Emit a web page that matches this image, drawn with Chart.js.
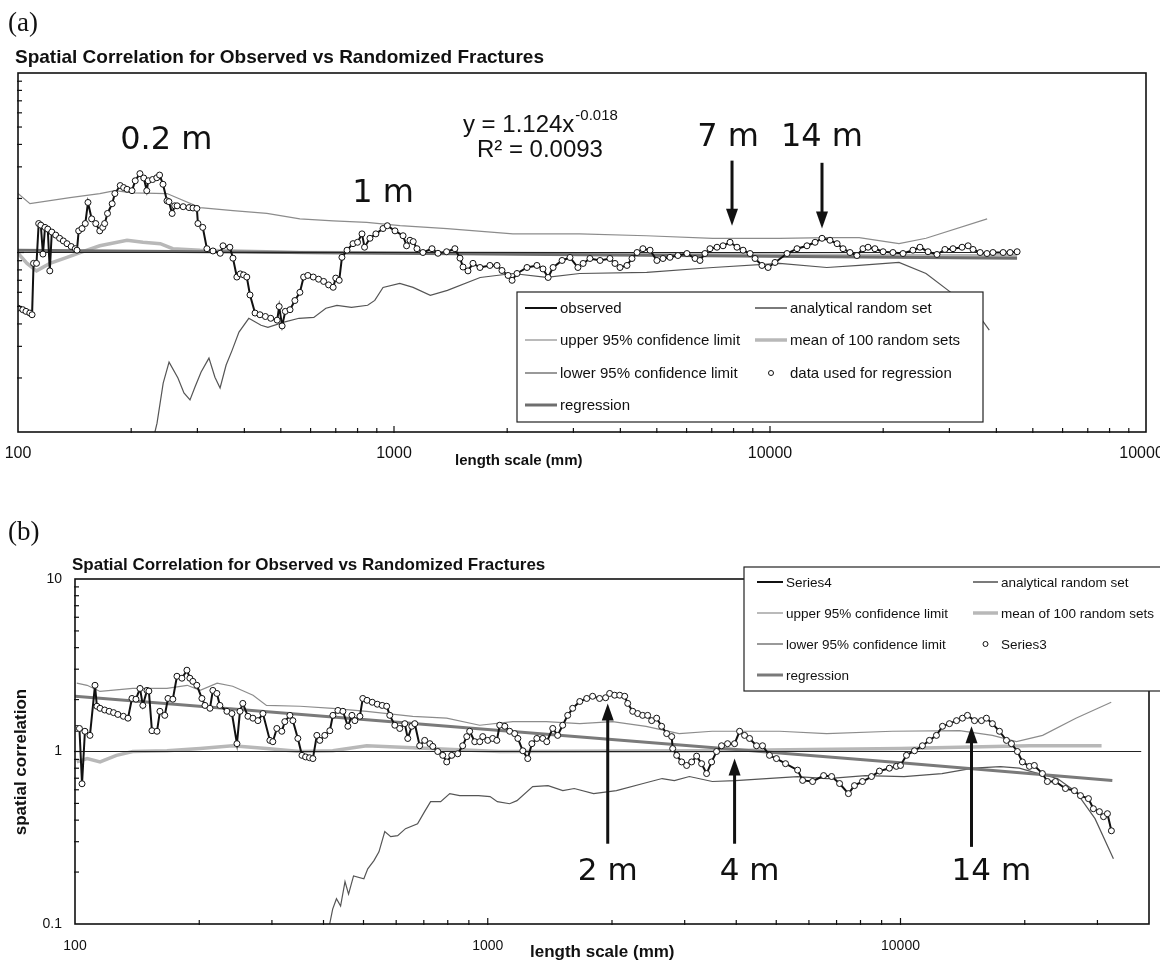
<!DOCTYPE html>
<html>
<head>
<meta charset="utf-8">
<script src="https://cdn.jsdelivr.net/npm/chart.js@4.4.1/dist/chart.umd.min.js"></script>
<style>
  body { margin: 0; background: #fff; width: 1160px; height: 961px; overflow: hidden; position: relative; }
  canvas { position: absolute; left: 0; }
  #chartA { top: 0; }
  #chartB { top: 470px; }
  .t { position: absolute; white-space: nowrap; color: #111; line-height: 1; font-family: "Liberation Sans", Arial, sans-serif; }
  .b { font-weight: bold; }
  .serif { font-family: "Liberation Serif", "Times New Roman", serif; }
</style>
</head>
<body>
<canvas id="chartA" width="1160" height="475"></canvas>
<canvas id="chartB" width="1160" height="491"></canvas>

<div class="t serif" style="left:8px;top:9px;font-size:27px">(a)</div>
<div class="t b" style="left:15px;top:47px;font-size:19px">Spatial Correlation for Observed vs Randomized Fractures</div>
<div class="t b" style="left:455px;top:452px;font-size:15px">length scale (mm)</div>
<div class="t serif" style="left:8px;top:518px;font-size:27px">(b)</div>
<div class="t b" style="left:72px;top:556px;font-size:17px">Spatial Correlation for Observed vs Randomized Fractures</div>
<div class="t b" style="left:530px;top:943px;font-size:17px">length scale (mm)</div>
<div class="t b" style="left:20px;top:762px;font-size:17px;transform:translate(-50%,-50%) rotate(-90deg)">spatial correlation</div>

<script>
"use strict";

/* ---- panel (a) data: [length scale (mm), spatial correlation] ---- */
var observedA = [
    [100, 0.49], [103, 0.48], [105, 0.47], [107.5, 0.46], [109, 0.45], [110, 0.87], [112, 0.87], [113.5, 1.45],
    [115, 1.42], [116.5, 0.98], [118, 1.38], [120, 1.35], [121.5, 0.79], [123, 1.30], [126, 1.25], [129, 1.20],
    [132, 1.16], [135, 1.12], [138.5, 1.08], [142, 1.05], [143.5, 1.03], [145, 1.32], [148, 1.36], [151, 1.45],
    [153.5, 1.90], [157, 1.54], [161, 1.45], [165, 1.32], [168, 1.38], [170, 1.45], [173, 1.65], [178, 1.87],
    [181, 2.13], [187, 2.36], [191, 2.30], [195, 2.25], [201, 2.21], [205, 2.51], [211, 2.75], [216, 2.60],
    [220, 2.21], [222, 2.51], [228, 2.55], [234, 2.61], [238, 2.70], [243, 2.40], [249, 1.94], [252, 1.92],
    [257, 1.65], [261, 1.82], [265, 1.82], [275, 1.80], [285, 1.78], [292, 1.77], [299, 1.76], [301, 1.45],
    [310, 1.38], [318, 1.05], [330, 1.02], [345, 0.99], [351, 1.09], [366, 1.07], [373, 0.93], [382, 0.73],
    [390, 0.76], [398, 0.75], [406, 0.73], [414, 0.58], [427, 0.46], [440, 0.45], [455, 0.44], [470, 0.43],
    [489, 0.42], [495, 0.50], [504, 0.39], [514, 0.47], [529, 0.48], [545, 0.54], [562, 0.60], [575, 0.73],
    [590, 0.745], [610, 0.73], [630, 0.71], [650, 0.69], [670, 0.66], [689, 0.64], [700, 0.72], [715, 0.70],
    [727, 0.94], [750, 1.03], [778, 1.12], [800, 1.14], [822, 1.27], [835, 1.07], [863, 1.20], [895, 1.27],
    [935, 1.36], [960, 1.41], [1006, 1.32], [1057, 1.24], [1080, 1.09], [1103, 1.17], [1125, 1.15], [1151, 1.05],
    [1194, 1.00], [1262, 1.05], [1309, 0.99], [1380, 1.01], [1452, 1.05], [1498, 0.93], [1526, 0.83], [1573, 0.79],
    [1622, 0.87], [1693, 0.825], [1799, 0.847], [1879, 0.847], [1937, 0.794], [2011, 0.745], [2061, 0.70], [2124, 0.764],
    [2258, 0.825], [2399, 0.847], [2490, 0.81], [2570, 0.726], [2649, 0.825], [2799, 0.903], [2938, 0.938], [3084, 0.825],
    [3184, 0.869], [3320, 0.926], [3532, 0.903], [3752, 0.926], [3870, 0.869], [3991, 0.825], [4165, 0.847], [4295, 0.926],
    [4430, 1.0], [4592, 1.05], [4797, 1.03], [5003, 0.903], [5192, 0.926], [5420, 0.94], [5690, 0.962], [6012, 0.987],
    [6320, 0.926], [6513, 0.903], [6714, 0.987], [6925, 1.05], [7228, 1.07], [7500, 1.09], [7830, 1.14], [8170, 1.07],
    [8480, 1.03], [8850, 0.987], [9125, 0.926], [9520, 0.847], [9883, 0.825], [10310, 0.88], [11100, 0.987], [11800, 1.05],
    [12540, 1.09], [13180, 1.14], [13750, 1.20], [14440, 1.17], [15080, 1.12], [15640, 1.05], [16320, 1.0], [17030, 0.962],
    [17670, 1.05], [18230, 1.07], [19010, 1.05], [19990, 1.01], [21230, 1.0], [22580, 0.987], [23990, 1.03], [25050, 1.07],
    [26320, 1.01], [27800, 0.975], [29190, 1.04], [30670, 1.05], [32420, 1.07], [33640, 1.09], [34670, 1.04], [36210, 1.0],
    [37760, 0.987], [39170, 1.0], [41690, 1.0], [43500, 1.0], [45420, 1.01]
];
var upperA = [
    [100, 2.13], [107.6, 1.87], [137.5, 2.02], [165, 2.13], [181, 2.21], [202, 2.15], [249, 2.13], [305, 1.78],
    [373, 1.71], [459, 1.65], [562, 1.54], [689, 1.50], [846, 1.47], [1038, 1.41], [1384, 1.36], [2071, 1.27],
    [3117, 1.27], [4690, 1.24], [7050, 1.20], [10600, 1.20], [14160, 1.21], [17260, 1.21], [22030, 1.12], [26000, 1.20],
    [37800, 1.54]
];
var lowerA = [
    [231.3, 0.1], [234.3, 0.112], [243.3, 0.187], [252.2, 0.245], [266.3, 0.20], [276.3, 0.165], [286.7, 0.151], [295.6, 0.178],
    [306.9, 0.216], [322, 0.258], [334, 0.202], [344.7, 0.176], [357.7, 0.236], [371, 0.285], [387, 0.36], [411, 0.43],
    [443, 0.393], [462, 0.383], [510, 0.409], [559, 0.43], [612, 0.435], [659, 0.489], [705, 0.508], [771, 0.495],
    [851, 0.508], [889, 0.541], [935, 0.639], [1036, 0.673], [1124, 0.639], [1249, 0.577], [1387, 0.615], [1695, 0.726],
    [2069, 0.764], [2546, 0.726], [3118, 0.764], [4701, 0.774], [7057, 0.825], [10600, 0.869], [14160, 0.825], [17260, 0.847],
    [22030, 0.88], [26000, 0.764], [30500, 0.592], [36700, 0.419], [38300, 0.369]
];
var meanA = [
    [100, 0.99], [105.7, 0.87], [112, 0.79], [121.6, 0.87], [135, 0.94], [152.6, 1.03], [165, 1.09], [195, 1.17],
    [215, 1.14], [239, 1.12], [258, 1.05], [305, 1.03], [562, 1.0], [1912, 0.99], [6500, 0.975], [22000, 0.96],
    [45400, 0.96]
];
var analyticA = [[100, 1], [45400, 1]];
var regressionA = [[100, 1.03], [45400, 0.93]];

/* ---- panel (b) data ---- */
var observedB = [
    [101, 1.36], [102.5, 1.36], [104, 0.65], [105.7, 1.31], [108.7, 1.24], [111.8, 2.42], [113, 1.83], [115, 1.78],
    [118, 1.74], [121, 1.71], [124, 1.68], [127, 1.64], [131, 1.60], [134.4, 1.56], [137.4, 2.03], [140.5, 2.01],
    [143.7, 2.32], [146, 1.85], [149.4, 2.26], [151, 2.24], [153.6, 1.32], [158, 1.31], [160.6, 1.71], [165, 1.62],
    [168, 2.03], [172.6, 2.01], [176.6, 2.73], [181.6, 2.66], [186.7, 2.96], [189.8, 2.66], [193, 2.55], [197.3, 2.42],
    [203, 2.03], [206.5, 1.85], [212.3, 1.78], [215.8, 2.26], [220.7, 2.17], [224.4, 1.85], [233.4, 1.71], [240, 1.66],
    [246.8, 1.11], [251, 1.71], [255, 1.90], [262.4, 1.60], [269.8, 1.56], [277.4, 1.51], [285.3, 1.66], [296.6, 1.16],
    [301.5, 1.14], [308.3, 1.36], [317, 1.31], [322.3, 1.49], [331.6, 1.62], [337.2, 1.51], [346.7, 1.19], [354.7, 0.95],
    [362, 0.93], [370, 0.92], [377, 0.91], [385.4, 1.24], [391.8, 1.16], [402.9, 1.24], [414.4, 1.32], [421.5, 1.62],
    [433.5, 1.73], [445.7, 1.71], [458.3, 1.40], [468.8, 1.62], [476.5, 1.51], [490, 1.60], [498, 2.03], [510, 1.98],
    [525, 1.93], [540, 1.88], [555, 1.85], [569, 1.83], [579, 1.62], [595.5, 1.42], [612, 1.36], [629.5, 1.45],
    [640, 1.19], [654.6, 1.40], [665.6, 1.45], [684, 1.08], [703.5, 1.16], [724, 1.11], [736, 1.07], [756.5, 1.0],
    [778, 0.95], [795.4, 0.87], [818, 0.95], [845.7, 0.97], [869.5, 1.08], [889.5, 1.22], [904, 1.31], [930, 1.14],
    [956.5, 1.14], [972.5, 1.22], [1000, 1.16], [1028, 1.19], [1052, 1.16], [1069, 1.42], [1100, 1.40], [1130, 1.31],
    [1162, 1.27], [1183, 1.19], [1216, 1.01], [1250, 0.91], [1279, 1.11], [1315, 1.19], [1359, 1.19], [1390, 1.14],
    [1437, 1.36], [1477, 1.24], [1519, 1.42], [1562, 1.62], [1606, 1.78], [1671, 1.95], [1737, 2.03], [1795, 2.09],
    [1866, 2.03], [1930, 2.05], [1974, 2.17], [2030, 2.12], [2088, 2.12], [2147, 2.09], [2183, 1.90], [2245, 1.71],
    [2308, 1.66], [2373, 1.62], [2440, 1.62], [2495, 1.51], [2566, 1.56], [2638, 1.40], [2713, 1.27], [2790, 1.22],
    [2806, 1.04], [2869, 0.95], [2950, 0.87], [3033, 0.83], [3119, 0.87], [3207, 0.94], [3297, 0.85], [3390, 0.745],
    [3486, 0.87], [3584, 1.0], [3685, 1.08], [3811, 1.11], [3963, 1.11], [4075, 1.31], [4190, 1.24], [4308, 1.19],
    [4479, 1.08], [4631, 1.08], [4815, 0.95], [5006, 0.91], [5266, 0.85], [5633, 0.78], [5793, 0.68], [6124, 0.67],
    [6512, 0.725], [6809, 0.716], [7119, 0.652], [7479, 0.57], [7735, 0.634], [8088, 0.67], [8506, 0.716], [8892, 0.77],
    [9398, 0.80], [9772, 0.82], [10000, 0.83], [10340, 0.95], [10810, 1.01], [11300, 1.08], [11750, 1.16], [12220, 1.24],
    [12640, 1.40], [13140, 1.45], [13670, 1.51], [14130, 1.56], [14530, 1.62], [15110, 1.51], [15710, 1.51], [16150, 1.56],
    [16700, 1.45], [17370, 1.31], [18060, 1.16], [18570, 1.11], [19200, 1.0], [19740, 0.87], [20530, 0.82], [21100, 0.83],
    [22070, 0.745], [22690, 0.67], [23730, 0.67], [25100, 0.61], [26390, 0.593], [27290, 0.555], [28530, 0.533], [29330, 0.466],
    [30330, 0.448], [31040, 0.419], [31720, 0.436], [32430, 0.347]
];
var upperB = [
    [101, 2.49], [107, 2.42], [115, 2.23], [138, 2.32], [167, 2.32], [187, 2.42], [201, 2.26], [221, 2.49],
    [241, 2.39], [270, 2.12], [291, 1.85], [351, 1.83], [421, 1.78], [509, 1.71], [658, 1.60], [795, 1.56],
    [956, 1.42], [1150, 1.49], [1386, 1.49], [1671, 1.45], [2006, 1.49], [2418, 1.40], [2909, 1.27], [3496, 1.31],
    [4222, 1.31], [5090, 1.31], [6623, 1.27], [9560, 1.31], [13900, 1.32], [16700, 1.24], [19100, 1.14], [22100, 1.24],
    [26600, 1.56], [32400, 1.93]
];
var lowerB = [
    [414, 0.1], [421, 0.122], [430, 0.14], [440, 0.127], [451, 0.176], [460, 0.149], [473, 0.19], [501, 0.183],
    [512, 0.209], [530, 0.233], [545, 0.262], [563, 0.343], [582, 0.321], [605, 0.325], [632, 0.357], [676, 0.381],
    [703, 0.448], [727, 0.512], [769, 0.512], [809, 0.57], [855, 0.555], [950, 0.555], [1013, 0.548], [1055, 0.512],
    [1130, 0.498], [1177, 0.519], [1285, 0.626], [1400, 0.634], [1520, 0.593], [1620, 0.61], [1805, 0.57], [2050, 0.593],
    [2380, 0.652], [2645, 0.697], [2832, 0.678], [3080, 0.716], [3500, 0.67], [3980, 0.678], [4730, 0.697], [5630, 0.716],
    [6650, 0.697], [8220, 0.725], [10200, 0.716], [12600, 0.745], [15000, 0.80], [17470, 0.818], [19400, 0.80], [21600, 0.745],
    [24000, 0.697], [26600, 0.585], [29600, 0.408], [32800, 0.239]
];
var meanB = [
    [101, 0.87], [107, 0.91], [115, 0.87], [126, 0.95], [138, 1.0], [167, 1.01], [201, 1.04], [241, 1.08],
    [291, 1.04], [351, 1.0], [421, 1.01], [509, 1.08], [1070, 1.0], [3250, 1.01], [10000, 1.04], [20500, 1.08],
    [30700, 1.08]
];
var analyticB = [[100, 1], [38300, 1]];
var regressionB = [[100, 2.09], [1000, 1.34], [10000, 0.86], [32600, 0.68]];

/* ---- axes ---- */
var xTicksA = [100, 1000, 10000, 100000];
var xTicksB = [100, 1000, 10000];
var yTicks = [0.1, 1, 10];

var SANS = '"Liberation Sans", Arial, sans-serif';
var VERD = '"DejaVu Sans", Verdana, sans-serif';

function pts(a) {
    return a.map(function (p) { return { x: p[0], y: p[1] }; });
}
function lineSet(label, data, color, width) {
    return { label: label, data: pts(data), showLine: true, borderColor: color, borderWidth: width,
        pointRadius: 0, pointHoverRadius: 0, fill: false, tension: 0 };
}
function dotSet(label, data) {
    return { label: label, data: pts(data), showLine: false, pointRadius: 3, pointHoverRadius: 3,
        pointBackgroundColor: '#fff', pointBorderColor: '#111', pointBorderWidth: 1, borderColor: '#111' };
}
function logX(min, max, ticks, size, pad, h) {
    return {
        type: 'logarithmic', min: min, max: max, position: 'bottom',
        grid: { display: false, drawTicks: false }, border: { display: false },
        ticks: { color: '#111', font: { family: SANS, size: size }, padding: pad, autoSkip: false, maxRotation: 0,
            callback: function (v) { return String(v); } },
        afterBuildTicks: function (s) { s.ticks = ticks.map(function (v) { return { value: v }; }); },
        afterFit: function (s) { s.height = h; s.paddingLeft = 0; s.paddingRight = 0; }
    };
}

/* frame, minor ticks, notes, arrows and the boxed legend */
function decor(cfg) {
    return {
        id: 'decor',
        afterDatasetsDraw: function (chart) {
            var ctx = chart.ctx, a = chart.chartArea, xs = chart.scales.x, ys = chart.scales.y;
            ctx.save();
            ctx.strokeStyle = '#111';
            ctx.fillStyle = '#111';
            ctx.lineWidth = 1.2;
            for (var d = xs.min; d < xs.max; d *= 10) {
                for (var k = 1; k < 10; k++) {
                    var v = d * k;
                    if (v <= xs.min || v >= xs.max) continue;
                    var px = xs.getPixelForValue(v);
                    ctx.beginPath(); ctx.moveTo(px, a.bottom + 1); ctx.lineTo(px, a.bottom - (k === 1 ? 6 : 4)); ctx.stroke();
                }
            }
            for (var e = ys.min; e < ys.max; e *= 10) {
                for (var j = 1; j < 10; j++) {
                    var w = e * j;
                    if (w <= ys.min || w >= ys.max) continue;
                    var py = ys.getPixelForValue(w);
                    ctx.beginPath(); ctx.moveTo(a.left - 1, py); ctx.lineTo(a.left + (j === 1 ? 6 : 4), py); ctx.stroke();
                }
            }
            ctx.lineWidth = 1.6;
            ctx.strokeRect(a.left, a.top, a.right - a.left, a.bottom - a.top);

            cfg.arrows.forEach(function (ar) {
                var x = xs.getPixelForValue(ar.x), y0 = ys.getPixelForValue(ar.from), y1 = ys.getPixelForValue(ar.to);
                var dir = y1 > y0 ? 1 : -1;
                ctx.lineWidth = 3;
                ctx.beginPath(); ctx.moveTo(x, y0); ctx.lineTo(x, y1 - dir * 12); ctx.stroke();
                ctx.beginPath(); ctx.moveTo(x, y1); ctx.lineTo(x - 6, y1 - dir * 17); ctx.lineTo(x + 6, y1 - dir * 17);
                ctx.closePath(); ctx.fill();
            });

            ctx.textBaseline = 'middle';
            cfg.notes.forEach(function (n) {
                var cx = xs.getPixelForValue(n.x), cy = ys.getPixelForValue(n.y);
                ctx.font = n.font;
                var w1 = ctx.measureText(n.text).width, w2 = 0;
                if (n.sup) { ctx.font = n.supFont; w2 = ctx.measureText(n.sup).width; }
                var sx = cx - (w1 + w2) / 2;
                ctx.textAlign = 'left';
                ctx.font = n.font;
                ctx.fillText(n.text, sx, cy);
                if (n.sup) { ctx.font = n.supFont; ctx.fillText(n.sup, sx + w1 + 1, cy - 9); }
            });

            var lg = cfg.legend, b = lg.box;
            ctx.fillStyle = '#fff';
            ctx.fillRect(b[0], b[1], b[2] - b[0], b[3] - b[1]);
            ctx.strokeStyle = '#222';
            ctx.lineWidth = 1.2;
            ctx.strokeRect(b[0], b[1], b[2] - b[0], b[3] - b[1]);
            ctx.font = lg.font;
            ctx.textAlign = 'left';
            lg.items.forEach(function (it) {
                var ds = chart.data.datasets.find(function (s) { return s.label === it[0]; });
                var col = lg.cols[it[1]], y = lg.rows[it[2]];
                if (ds.showLine) {
                    ctx.strokeStyle = ds.borderColor;
                    ctx.lineWidth = ds.borderWidth;
                    ctx.beginPath(); ctx.moveTo(col[0], y); ctx.lineTo(col[1], y); ctx.stroke();
                } else {
                    ctx.fillStyle = '#fff'; ctx.strokeStyle = '#111'; ctx.lineWidth = 1;
                    ctx.beginPath(); ctx.arc((col[0] + col[1]) / 2, y, 2.5, 0, Math.PI * 2); ctx.fill(); ctx.stroke();
                }
                ctx.fillStyle = '#111';
                ctx.fillText(it[0], col[2], y + 1);
            });
            ctx.restore();
        }
    };
}

/* ---- chart (a) ---- */
var ctxA = document.getElementById('chartA').getContext('2d');
new Chart(ctxA, {
    type: 'scatter',
    data: {
        datasets: [
            dotSet('data used for regression', observedA),
            lineSet('observed', observedA, '#111', 2),
            lineSet('analytical random set', analyticA, '#222', 1.2),
            lineSet('regression', regressionA, '#6e6e6e', 3),
            lineSet('lower 95% confidence limit', lowerA, '#555', 1.2),
            lineSet('upper 95% confidence limit', upperA, '#8c8c8c', 1.2),
            lineSet('mean of 100 random sets', meanA, '#b8b8b8', 3.5)
        ]
    },
    options: {
        responsive: false,
        animation: false,
        events: [],
        layout: { padding: { left: 18, right: 14, top: 73, bottom: 0 } },
        plugins: { legend: { display: false }, tooltip: { enabled: false } },
        scales: {
            x: logX(100, 100000, xTicksA, 16, 12, 43),
            y: { type: 'logarithmic', min: 0.1, max: 10, display: false }
        }
    },
    plugins: [decor({
        arrows: [
            { x: 7925, from: 3.25, to: 1.41 },
            { x: 13750, from: 3.16, to: 1.36 }
        ],
        notes: [
            { x: 248, y: 4.19, text: '0.2 m', font: '32px ' + VERD },
            { x: 935, y: 2.13, text: '1 m', font: '32px ' + VERD },
            { x: 7735, y: 4.36, text: '7 m', font: '32px ' + VERD },
            { x: 13750, y: 4.36, text: '14 m', font: '32px ' + VERD },
            { x: 2444, y: 5.14, text: 'y = 1.124x', sup: '-0.018', font: '24px ' + SANS, supFont: '15px ' + SANS },
            { x: 2444, y: 3.73, text: 'R² = 0.0093', font: '24px ' + SANS }
        ],
        legend: {
            box: [517, 292, 983, 422],
            font: '15px ' + SANS,
            cols: [[525, 557, 560], [755, 787, 790]],
            rows: [308, 340, 373, 405],
            items: [
                ['observed', 0, 0], ['analytical random set', 1, 0],
                ['upper 95% confidence limit', 0, 1], ['mean of 100 random sets', 1, 1],
                ['lower 95% confidence limit', 0, 2], ['data used for regression', 1, 2],
                ['regression', 0, 3]
            ]
        }
    })]
});

/* ---- chart (b) ---- */
var ctxB = document.getElementById('chartB').getContext('2d');
new Chart(ctxB, {
    type: 'scatter',
    data: {
        datasets: [
            dotSet('Series3', observedB),
            lineSet('Series4', observedB, '#111', 2),
            lineSet('analytical random set', analyticB, '#222', 1.2),
            lineSet('regression', regressionB, '#7a7a7a', 3),
            lineSet('lower 95% confidence limit', lowerB, '#555', 1.2),
            lineSet('upper 95% confidence limit', upperB, '#8c8c8c', 1.2),
            lineSet('mean of 100 random sets', meanB, '#b8b8b8', 3.5)
        ]
    },
    options: {
        responsive: false,
        animation: false,
        events: [],
        layout: { padding: { left: 0, right: 11, top: 109, bottom: 0 } },
        plugins: { legend: { display: false }, tooltip: { enabled: false } },
        scales: {
            x: logX(100, 40000, xTicksB, 14, 14, 37),
            y: {
                type: 'logarithmic', min: 0.1, max: 10,
                grid: { display: false, drawTicks: false }, border: { display: false },
                ticks: { color: '#111', font: { family: SANS, size: 14 }, padding: 13,
                    callback: function (v) { return String(v); } },
                afterBuildTicks: function (s) { s.ticks = yTicks.map(function (v) { return { value: v }; }); },
                afterFit: function (s) { s.width = 75; s.paddingTop = 0; s.paddingBottom = 0; }
            }
        }
    },
    plugins: [decor({
        arrows: [
            { x: 1953, from: 0.292, to: 1.90 },
            { x: 3963, from: 0.292, to: 0.911 },
            { x: 14860, from: 0.28, to: 1.40 }
        ],
        notes: [
            { x: 1953, y: 0.2, text: '2 m', font: '31px ' + VERD },
            { x: 4308, y: 0.2, text: '4 m', font: '31px ' + VERD },
            { x: 16600, y: 0.2, text: '14 m', font: '31px ' + VERD }
        ],
        legend: {
            box: [744, 97, 1175, 221],
            font: '13.5px ' + SANS,
            cols: [[757, 783, 786], [973, 998, 1001]],
            rows: [112, 143, 174, 205],
            items: [
                ['Series4', 0, 0], ['analytical random set', 1, 0],
                ['upper 95% confidence limit', 0, 1], ['mean of 100 random sets', 1, 1],
                ['lower 95% confidence limit', 0, 2], ['Series3', 1, 2],
                ['regression', 0, 3]
            ]
        }
    })]
});
</script>
</body>
</html>
